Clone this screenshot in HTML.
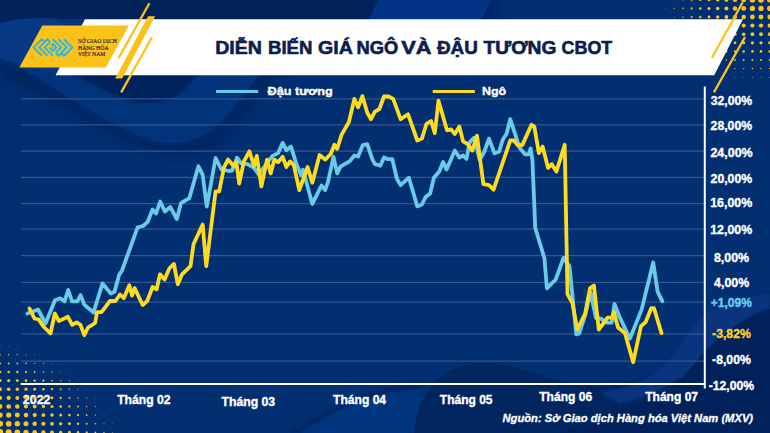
<!DOCTYPE html>
<html><head><meta charset="utf-8"><style>
html,body{margin:0;padding:0;background:#022f6f;}
body{width:770px;height:433px;overflow:hidden;}
svg{display:block;font-family:"Liberation Sans",sans-serif;}
</style></head><body>
<svg width="770" height="433" viewBox="0 0 770 433">
<defs>
<linearGradient id="gDark" x1="0" y1="0" x2="0" y2="1"><stop offset="0" stop-color="#01285f"/><stop offset="1" stop-color="#01245c"/></linearGradient>
<linearGradient id="gLight" gradientUnits="userSpaceOnUse" x1="745" y1="305" x2="700" y2="380"><stop offset="0" stop-color="#0a3e8c"/><stop offset="0.5" stop-color="#063480" stop-opacity="0.6"/><stop offset="1" stop-color="#01245c" stop-opacity="0"/></linearGradient>
<linearGradient id="gTongue" gradientUnits="userSpaceOnUse" x1="484" y1="0" x2="518" y2="0"><stop offset="0" stop-color="#001f66" stop-opacity="0.9"/><stop offset="1" stop-color="#012f71" stop-opacity="0"/></linearGradient>
<filter id="blur1" x="-20%" y="-20%" width="140%" height="140%"><feGaussianBlur stdDeviation="1"/></filter>
<filter id="blur2" x="-20%" y="-20%" width="140%" height="140%"><feGaussianBlur stdDeviation="1.5"/></filter>
<filter id="blur4" x="-20%" y="-20%" width="140%" height="140%"><feGaussianBlur stdDeviation="4"/></filter>
</defs>
<rect width="770" height="433" fill="#012f71"/>
<g id="bgwaves">
<clipPath id="clipAll"><rect width="770" height="433"/></clipPath>
<g clip-path="url(#clipAll)">
<path d="M0,58 C30,70 70,100 112,123 C140,138 160,145 178,143 C200,140 215,130 228,114 C240,100 250,85 265,68 C300,40 340,20 382,0 L400,0 C350,30 300,60 275,80 C255,100 245,120 232,132 C215,150 195,157 172,155 C150,153 125,142 100,128 C60,108 30,88 0,78 Z" fill="#00215a" filter="url(#blur4)" opacity="0.7"/>
<path d="M0,58 C30,70 70,100 112,123 C140,138 160,145 178,143 C200,140 215,130 228,114 C240,100 250,85 265,68 C300,40 340,20 382,0 L0,0 Z" fill="#02347b"/>
<path d="M0,0 L378,0 L369,20 L60,19 C35,17 15,19 0,23 Z" fill="#02225a"/>
<path d="M0,23 C15,19 35,17 60,19 L60,75 C40,70 20,64 0,58 Z" fill="#073883"/>
<path d="M378,0 L491,0 C488,8 485,14 480,20 L369,20 Z" fill="#023384"/>
<path d="M491,0 L525,0 L512,20 L480,20 C485,14 488,8 491,0 Z" fill="url(#gTongue)"/>
<path d="M70,72 C95,85 120,103 147,103 C172,103 187,93 198,72 Z" fill="#01245c" filter="url(#blur2)"/>
<path d="M300,433 C330,415 355,400 385,394 C400,391 412,390 422,390 L422,385 C410,384 398,385 383,389 C350,396 322,414 288,433 Z" fill="#01225c" opacity="0.7" filter="url(#blur2)"/>
<path d="M300,433 C330,415 355,400 385,394 C400,391 412,390 422,390 L416,433 Z" fill="#05357f" filter="url(#blur1)"/>
<path d="M414,433 C418,392 440,368 476,363 C510,360 545,380 580,385 C610,389 640,382 660,368 C678,352 690,325 705,313 C725,300 750,296 770,293 L770,433 Z" fill="#01265f"/>
<path d="M600,392 C630,388 645,380 660,368 C678,352 690,325 705,313 C725,300 750,296 770,293 L770,309 C755,312 735,325 712,345 C705,350 700,358 690,370 C675,385 650,396 620,404 Z" fill="#073886" opacity="0.8" filter="url(#blur1)"/>
<path d="M560,433 C600,418 650,398 675,385 C685,378 695,362 712,345 C735,325 755,312 770,309 L770,433 Z" fill="#01215a"/>
</g>
</g>
<g fill="#fcc419"><circle cx="769.7" cy="-0.2" r="2.72"/><circle cx="769.7" cy="8.4" r="2.61"/><circle cx="769.7" cy="17.0" r="2.38"/><circle cx="769.7" cy="25.6" r="2.11"/><circle cx="769.7" cy="34.2" r="1.84"/><circle cx="769.7" cy="42.8" r="1.57"/><circle cx="769.7" cy="51.4" r="1.29"/><circle cx="769.7" cy="60.0" r="1.01"/><circle cx="769.7" cy="68.6" r="0.73"/><circle cx="769.7" cy="77.2" r="0.45"/><circle cx="761.0" cy="-0.2" r="2.97"/><circle cx="761.0" cy="8.4" r="2.72"/><circle cx="761.0" cy="17.0" r="2.44"/><circle cx="761.0" cy="25.6" r="2.16"/><circle cx="761.0" cy="34.2" r="1.88"/><circle cx="761.0" cy="42.8" r="1.59"/><circle cx="761.0" cy="51.4" r="1.31"/><circle cx="761.0" cy="60.0" r="1.03"/><circle cx="761.0" cy="68.6" r="0.75"/><circle cx="761.0" cy="77.2" r="0.46"/><circle cx="752.4" cy="-0.2" r="2.78"/><circle cx="752.4" cy="8.4" r="2.65"/><circle cx="752.4" cy="17.0" r="2.40"/><circle cx="752.4" cy="25.6" r="2.13"/><circle cx="752.4" cy="34.2" r="1.86"/><circle cx="752.4" cy="42.8" r="1.58"/><circle cx="752.4" cy="51.4" r="1.30"/><circle cx="752.4" cy="60.0" r="1.02"/><circle cx="752.4" cy="68.6" r="0.74"/><circle cx="752.4" cy="77.2" r="0.45"/><circle cx="743.7" cy="-0.2" r="2.53"/><circle cx="743.7" cy="8.4" r="2.46"/><circle cx="743.7" cy="17.0" r="2.27"/><circle cx="743.7" cy="25.6" r="2.04"/><circle cx="743.7" cy="34.2" r="1.78"/><circle cx="743.7" cy="42.8" r="1.52"/><circle cx="743.7" cy="51.4" r="1.25"/><circle cx="743.7" cy="60.0" r="0.97"/><circle cx="743.7" cy="68.6" r="0.70"/><circle cx="743.7" cy="77.2" r="0.42"/><circle cx="735.0" cy="-0.2" r="2.29"/><circle cx="735.0" cy="8.4" r="2.23"/><circle cx="735.0" cy="17.0" r="2.09"/><circle cx="735.0" cy="25.6" r="1.90"/><circle cx="735.0" cy="34.2" r="1.67"/><circle cx="735.0" cy="42.8" r="1.42"/><circle cx="735.0" cy="51.4" r="1.17"/><circle cx="735.0" cy="60.0" r="0.90"/><circle cx="735.0" cy="68.6" r="0.64"/><circle cx="735.0" cy="77.2" r="0.36"/><circle cx="726.4" cy="-0.2" r="2.04"/><circle cx="726.4" cy="8.4" r="2.00"/><circle cx="726.4" cy="17.0" r="1.89"/><circle cx="726.4" cy="25.6" r="1.72"/><circle cx="726.4" cy="34.2" r="1.52"/><circle cx="726.4" cy="42.8" r="1.30"/><circle cx="726.4" cy="51.4" r="1.06"/><circle cx="726.4" cy="60.0" r="0.81"/><circle cx="726.4" cy="68.6" r="0.55"/><circle cx="726.4" cy="77.2" r="0.29"/><circle cx="717.7" cy="-0.2" r="1.79"/><circle cx="717.7" cy="8.4" r="1.76"/><circle cx="717.7" cy="17.0" r="1.67"/><circle cx="717.7" cy="25.6" r="1.53"/><circle cx="717.7" cy="34.2" r="1.35"/><circle cx="717.7" cy="42.8" r="1.15"/><circle cx="717.7" cy="51.4" r="0.92"/><circle cx="717.7" cy="60.0" r="0.69"/><circle cx="717.7" cy="68.6" r="0.44"/><circle cx="709.0" cy="-0.2" r="1.54"/><circle cx="709.0" cy="8.4" r="1.52"/><circle cx="709.0" cy="17.0" r="1.44"/><circle cx="709.0" cy="25.6" r="1.32"/><circle cx="709.0" cy="34.2" r="1.16"/><circle cx="709.0" cy="42.8" r="0.98"/><circle cx="709.0" cy="51.4" r="0.77"/><circle cx="709.0" cy="60.0" r="0.55"/><circle cx="709.0" cy="68.6" r="0.32"/><circle cx="700.3" cy="-0.2" r="1.30"/><circle cx="700.3" cy="8.4" r="1.27"/><circle cx="700.3" cy="17.0" r="1.21"/><circle cx="700.3" cy="25.6" r="1.10"/><circle cx="700.3" cy="34.2" r="0.96"/><circle cx="700.3" cy="42.8" r="0.79"/><circle cx="700.3" cy="51.4" r="0.60"/><circle cx="700.3" cy="60.0" r="0.39"/><circle cx="691.7" cy="-0.2" r="1.05"/><circle cx="691.7" cy="8.4" r="1.03"/><circle cx="691.7" cy="17.0" r="0.97"/><circle cx="691.7" cy="25.6" r="0.87"/><circle cx="691.7" cy="34.2" r="0.75"/><circle cx="691.7" cy="42.8" r="0.59"/><circle cx="691.7" cy="51.4" r="0.42"/><circle cx="683.0" cy="-0.2" r="0.80"/><circle cx="683.0" cy="8.4" r="0.78"/><circle cx="683.0" cy="17.0" r="0.73"/><circle cx="683.0" cy="25.6" r="0.64"/><circle cx="683.0" cy="34.2" r="0.53"/><circle cx="683.0" cy="42.8" r="0.39"/><circle cx="674.3" cy="-0.2" r="0.55"/><circle cx="674.3" cy="8.4" r="0.54"/><circle cx="674.3" cy="17.0" r="0.49"/><circle cx="674.3" cy="25.6" r="0.41"/><circle cx="674.3" cy="34.2" r="0.31"/><circle cx="665.7" cy="-0.2" r="0.30"/><circle cx="665.7" cy="8.4" r="0.29"/></g>
<!-- banner -->
<polygon points="85,19.2 743,19.2 714.2,75.2 55.6,75.2" fill="#ffffff"/>
<!-- logo parallelogram -->
<polygon points="42.3,25.4 129,25.4 105.8,67.6 19.3,67.6" fill="#fdc21a"/>
<!-- stripes -->
<g fill="#fdc21a">
<polygon points="148,16.2 155.1,16.2 122.2,78.6 115.2,78.6"/>
</g>
<g stroke="#fdc21a" stroke-width="2.3" stroke-linecap="butt" fill="none">
<line x1="149.4" y1="3.2" x2="118.5" y2="58.2"/>
<line x1="151.8" y1="37.5" x2="121.2" y2="92.4"/>
<line x1="742.7" y1="2.3" x2="712" y2="57.7"/>
<line x1="745" y1="37" x2="713.9" y2="92.4"/>
</g>
<!-- logo icon -->
<g transform="translate(31,36) scale(0.05848)" stroke="#1fb8f0" stroke-width="32" fill="none" stroke-linejoin="miter" stroke-linecap="butt">
<path d="M185,335 L45,195 L185,55 L230,100 M280,335 L140,195 L280,55 L325,100 M375,55 L515,195 L420,290 M565,55 L705,195 L565,335 L520,290 M470,55 L610,195 L470,335 L425,290 M375,335 L235,195 L330,100 M345,165 L375,135 L435,195 L375,255 L315,195"/>
<circle cx="375" cy="195" r="15" fill="#1fb8f0" stroke="none"/>
</g>
<rect x="71.6" y="39.2" width="1.8" height="0.8" fill="#8ab39a" opacity="0.8"/>
<g fill="#3a2a35" font-family="Liberation Serif" font-size="5.1" stroke="#3a2a35" stroke-width="0.18">
<text x="78" y="43.2" textLength="39" lengthAdjust="spacingAndGlyphs">SỞ GIAO DỊCH</text>
<text x="78" y="49.7" textLength="30.6" lengthAdjust="spacingAndGlyphs">HÀNG HÓA</text>
<text x="78" y="56.2" textLength="27.2" lengthAdjust="spacingAndGlyphs">VIỆT NAM</text>
</g>
<!-- title -->
<g font-size="18" font-weight="bold" fill="#0c1f4b" stroke="#0c1f4b" stroke-width="0.6"><text x="215.20" y="53.5" textLength="46.71" lengthAdjust="spacingAndGlyphs">DIỄN</text><text x="267.96" y="53.5" textLength="44.49" lengthAdjust="spacingAndGlyphs">BIẾN</text><text x="318.14" y="53.5" textLength="34.81" lengthAdjust="spacingAndGlyphs">GIÁ</text><text x="356.58" y="53.5" textLength="41.74" lengthAdjust="spacingAndGlyphs">NGÔ</text><text x="401.28" y="53.5" textLength="30.33" lengthAdjust="spacingAndGlyphs">VÀ</text><text x="437.00" y="53.5" textLength="40.85" lengthAdjust="spacingAndGlyphs">ĐẬU</text><text x="483.49" y="53.5" textLength="72.97" lengthAdjust="spacingAndGlyphs">TƯƠNG</text><text x="561.60" y="53.5" textLength="50.69" lengthAdjust="spacingAndGlyphs">CBOT</text></g>
<!-- legend -->
<line x1="216" y1="91.6" x2="258.2" y2="91.6" stroke="#6acbe9" stroke-width="3"/>
<line x1="432.7" y1="91.4" x2="474.9" y2="91.4" stroke="#fedb1e" stroke-width="3"/>
<g font-size="11.8" font-weight="bold" fill="#fff" stroke="#fff" stroke-width="0.35"><text x="267.60" y="94.6" textLength="65.21" lengthAdjust="spacingAndGlyphs">Đậu tương</text><text x="481.96" y="94.6" textLength="24.10" lengthAdjust="spacingAndGlyphs">Ngô</text></g>
<!-- grid -->
<g stroke="#35568f" stroke-width="1.3"><line x1="21" y1="98.9" x2="704" y2="98.9"/><line x1="21" y1="124.9" x2="704" y2="124.9"/><line x1="21" y1="151.1" x2="704" y2="151.1"/><line x1="21" y1="177.3" x2="704" y2="177.3"/><line x1="21" y1="203.6" x2="704" y2="203.6"/><line x1="21" y1="229.1" x2="704" y2="229.1"/><line x1="21" y1="255.7" x2="704" y2="255.7"/><line x1="21" y1="282.3" x2="704" y2="282.3"/><line x1="21" y1="302.2" x2="704" y2="302.2"/><line x1="21" y1="333.9" x2="704" y2="333.9"/><line x1="21" y1="361.1" x2="704" y2="361.1"/></g>
<!-- axes -->
<line x1="704.8" y1="86.4" x2="704.8" y2="388.4" stroke="#fff" stroke-width="2"/>
<line x1="20.8" y1="384" x2="705" y2="384" stroke="#fff" stroke-width="2.1"/>
<!-- series -->
<polyline points="27.5,313.5 38.0,309.5 45.5,323.5 55.0,300.2 60.2,298.3 64.6,301.4 68.2,290.0 72.0,301.4 77.3,301.4 80.6,295.1 84.3,304.6 93.5,312.5 102.5,283.4 110.8,293.6 114.5,291.8 119.1,275.1 122.0,270.5 137.6,227.4 143.0,226.0 147.7,221.8 152.5,209.5 156.0,213.6 160.2,201.5 164.9,211.5 170.4,207.1 176.8,219.0 181.0,203.2 189.3,198.2 198.4,166.3 202.6,174.6 206.8,206.5 215.6,158.0 221.2,169.1 228.6,171.0 232.2,170.5 237.0,157.7 241.1,163.3 247.6,164.2 254.0,167.9 258.7,174.4 272.5,155.9 278.1,153.1 282.7,142.9 286.4,150.3 291.0,146.6 296.5,164.2 301.2,175.3 303.0,169.7 312.3,203.9 321.5,185.5 325.2,190.0 328.0,181.8 333.5,156.8 337.2,173.4 340.5,166.6 349.8,161.1 354.4,155.5 358.1,156.5 362.7,145.1 367.3,144.1 372.0,158.3 374.7,163.9 380.3,165.7 384.0,157.4 387.7,159.2 392.3,159.2 396.9,178.7 400.6,185.1 408.9,177.7 417.3,206.4 421.9,204.5 425.6,197.1 430.2,193.4 433.9,177.7 439.4,171.3 443.1,162.0 446.5,169.4 451.1,159.2 454.8,150.5 459.4,157.5 463.1,155.5 466.5,159.0 469.6,142.3 474.2,137.7 479.7,159.9 484.4,151.5 489.0,138.6 494.5,153.4 499.2,151.5 502.8,139.5 506.5,134.0 510.2,119.2 513.9,130.3 519.5,147.8 525.0,154.3 528.7,154.3 530.6,148.5 532.4,159.6 535.2,227.7 544.4,258.2 546.9,288.3 555.7,279.5 563.5,257.9 569.4,265.8 576.3,334.4 579.2,333.4 585.0,316.0 590.5,292.0 596.0,318.0 600.8,318.7 606.7,322.6 611.6,322.6 614.5,304.0 619.4,316.5 629.9,338.6 641.6,309.6 653.2,262.5 657.6,291.6 662.3,301.2" fill="none" stroke="#6acbe9" stroke-width="3.8" stroke-linejoin="round" stroke-linecap="round"/>
<polyline points="29.5,308.5 34.5,318.5 38.7,319.5 43.4,326.5 50.5,333.5 54.8,313.5 58.9,321.1 67.8,316.7 72.2,324.9 76.7,322.4 80.5,324.9 84.3,335.1 88.1,327.5 95.1,323.0 97.0,312.2 101.5,312.2 110.0,301.0 115.5,301.0 120.0,294.5 123.8,298.2 129.3,285.3 132.0,295.5 134.6,288.1 142.7,305.0 147.3,300.8 152.6,287.0 156.6,289.3 160.0,274.3 164.6,279.6 169.3,268.5 173.9,263.9 177.8,284.2 182.0,274.3 190.5,266.2 193.5,244.2 202.7,224.6 206.2,266.2 215.6,191.3 219.2,191.3 223.9,167.7 228.1,159.4 233.6,166.3 236.4,162.2 239.2,183.6 243.9,161.4 249.4,151.3 254.0,166.0 256.8,155.9 261.4,186.4 267.0,159.6 270.7,173.4 274.4,159.6 278.1,162.3 282.7,156.8 286.4,167.0 290.1,161.4 293.8,165.1 299.3,190.1 307.6,167.0 312.3,182.7 319.6,155.0 325.2,159.6 330.7,154.0 334.4,144.8 337.2,148.8 341.5,134.9 348.9,122.0 354.4,98.9 358.1,107.2 362.4,96.1 367.3,112.7 371.0,119.2 374.7,111.8 379.4,109.0 384.0,96.5 388.6,96.5 393.2,98.9 400.6,119.2 408.0,114.2 417.3,140.5 421.9,138.6 426.5,123.8 431.1,121.0 434.8,133.1 438.5,100.7 447.0,130.3 451.1,129.4 454.8,134.0 459.4,126.6 463.1,141.4 467.7,144.1 472.3,150.6 477.0,135.8 483.4,184.2 489.0,185.1 493.6,189.7 510.2,140.5 514.0,140.5 517.6,145.1 522.3,145.1 531.5,124.7 534.3,126.6 538.9,153.1 542.6,146.6 548.1,167.9 551.8,164.2 556.4,171.6 564.7,144.8 567.5,294.2 572.4,303.0 577.3,329.5 585.1,313.8 590.0,288.3 593.9,285.4 598.8,329.5 607.6,317.7 612.5,317.7 613.9,312.3 618.0,327.6 624.9,333.1 633.2,362.2 641.0,326.2 645.7,322.0 651.2,308.2 654.0,308.2 661.5,333.1" fill="none" stroke="#fedb1e" stroke-width="3.8" stroke-linejoin="round" stroke-linecap="round"/>
<!-- y labels -->
<g font-size="12.4" font-weight="bold" stroke-width="0.35"><text x="710.70" y="104.6" fill="#fff" stroke="#fff" textLength="41.45" lengthAdjust="spacingAndGlyphs">32,00%</text><text x="710.60" y="130.3" fill="#fff" stroke="#fff" textLength="41.55" lengthAdjust="spacingAndGlyphs">28,00%</text><text x="710.40" y="156.9" fill="#fff" stroke="#fff" textLength="42.26" lengthAdjust="spacingAndGlyphs">24,00%</text><text x="710.60" y="183.4" fill="#fff" stroke="#fff" textLength="41.55" lengthAdjust="spacingAndGlyphs">20,00%</text><text x="710.20" y="207.4" fill="#fff" stroke="#fff" textLength="41.95" lengthAdjust="spacingAndGlyphs">16,00%</text><text x="710.20" y="234.2" fill="#fff" stroke="#fff" textLength="41.95" lengthAdjust="spacingAndGlyphs">12,00%</text><text x="713.90" y="261.5" fill="#fff" stroke="#fff" textLength="35.26" lengthAdjust="spacingAndGlyphs">8,00%</text><text x="714.10" y="287.3" fill="#fff" stroke="#fff" textLength="35.06" lengthAdjust="spacingAndGlyphs">4,00%</text><text x="710.82" y="307" fill="#6fcdf0" stroke="#6fcdf0" textLength="40.98" lengthAdjust="spacingAndGlyphs">+1,09%</text><text x="712.11" y="338" fill="#fdd22a" stroke="#fdd22a" textLength="38.68" lengthAdjust="spacingAndGlyphs">-3,82%</text><text x="712.11" y="364.2" fill="#fff" stroke="#fff" textLength="38.68" lengthAdjust="spacingAndGlyphs">-8,00%</text><text x="708.71" y="389.5" fill="#fff" stroke="#fff" textLength="45.48" lengthAdjust="spacingAndGlyphs">-12,00%</text></g>
<g font-size="12.2" font-weight="bold" fill="#fff" stroke="#fff" stroke-width="0.35"><text x="22.79" y="404.4" textLength="27.76" lengthAdjust="spacingAndGlyphs">2022</text><text x="117.20" y="403.5" textLength="53.25" lengthAdjust="spacingAndGlyphs">Tháng 02</text><text x="221.50" y="405.5" textLength="53.65" lengthAdjust="spacingAndGlyphs">Tháng 03</text><text x="333.10" y="403.8" textLength="52.95" lengthAdjust="spacingAndGlyphs">Tháng 04</text><text x="439.80" y="403.8" textLength="52.74" lengthAdjust="spacingAndGlyphs">Tháng 05</text><text x="539.20" y="401.4" textLength="52.94" lengthAdjust="spacingAndGlyphs">Tháng 06</text><text x="645.20" y="401" textLength="52.84" lengthAdjust="spacingAndGlyphs">Tháng 07</text></g>
<g fill="#fcc419"><circle cx="0.0" cy="346.1" r="0.48"/><circle cx="0.0" cy="354.7" r="0.76"/><circle cx="0.0" cy="363.4" r="1.04"/><circle cx="0.0" cy="372.0" r="1.32"/><circle cx="0.0" cy="380.6" r="1.60"/><circle cx="0.0" cy="389.2" r="1.88"/><circle cx="0.0" cy="397.9" r="2.16"/><circle cx="0.0" cy="406.5" r="2.44"/><circle cx="0.0" cy="415.1" r="2.72"/><circle cx="0.0" cy="423.8" r="3.00"/><circle cx="0.0" cy="432.4" r="3.28"/><circle cx="0.0" cy="441.0" r="3.04"/><circle cx="8.7" cy="346.1" r="0.43"/><circle cx="8.7" cy="354.7" r="0.71"/><circle cx="8.7" cy="363.4" r="0.99"/><circle cx="8.7" cy="372.0" r="1.27"/><circle cx="8.7" cy="380.6" r="1.54"/><circle cx="8.7" cy="389.2" r="1.82"/><circle cx="8.7" cy="397.9" r="2.09"/><circle cx="8.7" cy="406.5" r="2.37"/><circle cx="8.7" cy="415.1" r="2.63"/><circle cx="8.7" cy="423.8" r="2.88"/><circle cx="8.7" cy="432.4" r="3.08"/><circle cx="8.7" cy="441.0" r="2.92"/><circle cx="17.3" cy="346.1" r="0.36"/><circle cx="17.3" cy="354.7" r="0.63"/><circle cx="17.3" cy="363.4" r="0.91"/><circle cx="17.3" cy="372.0" r="1.18"/><circle cx="17.3" cy="380.6" r="1.45"/><circle cx="17.3" cy="389.2" r="1.72"/><circle cx="17.3" cy="397.9" r="1.98"/><circle cx="17.3" cy="406.5" r="2.24"/><circle cx="17.3" cy="415.1" r="2.48"/><circle cx="17.3" cy="423.8" r="2.71"/><circle cx="17.3" cy="432.4" r="2.86"/><circle cx="17.3" cy="441.0" r="2.73"/><circle cx="26.0" cy="346.1" r="0.27"/><circle cx="26.0" cy="354.7" r="0.54"/><circle cx="26.0" cy="363.4" r="0.80"/><circle cx="26.0" cy="372.0" r="1.07"/><circle cx="26.0" cy="380.6" r="1.33"/><circle cx="26.0" cy="389.2" r="1.59"/><circle cx="26.0" cy="397.9" r="1.84"/><circle cx="26.0" cy="406.5" r="2.09"/><circle cx="26.0" cy="415.1" r="2.31"/><circle cx="26.0" cy="423.8" r="2.51"/><circle cx="26.0" cy="432.4" r="2.63"/><circle cx="26.0" cy="441.0" r="2.53"/><circle cx="34.7" cy="354.7" r="0.42"/><circle cx="34.7" cy="363.4" r="0.68"/><circle cx="34.7" cy="372.0" r="0.94"/><circle cx="34.7" cy="380.6" r="1.20"/><circle cx="34.7" cy="389.2" r="1.44"/><circle cx="34.7" cy="397.9" r="1.69"/><circle cx="34.7" cy="406.5" r="1.91"/><circle cx="34.7" cy="415.1" r="2.12"/><circle cx="34.7" cy="423.8" r="2.30"/><circle cx="34.7" cy="432.4" r="2.41"/><circle cx="34.7" cy="441.0" r="2.32"/><circle cx="43.4" cy="354.7" r="0.29"/><circle cx="43.4" cy="363.4" r="0.55"/><circle cx="43.4" cy="372.0" r="0.80"/><circle cx="43.4" cy="380.6" r="1.05"/><circle cx="43.4" cy="389.2" r="1.29"/><circle cx="43.4" cy="397.9" r="1.52"/><circle cx="43.4" cy="406.5" r="1.73"/><circle cx="43.4" cy="415.1" r="1.93"/><circle cx="43.4" cy="423.8" r="2.09"/><circle cx="43.4" cy="432.4" r="2.19"/><circle cx="43.4" cy="441.0" r="2.11"/><circle cx="52.0" cy="363.4" r="0.40"/><circle cx="52.0" cy="372.0" r="0.65"/><circle cx="52.0" cy="380.6" r="0.89"/><circle cx="52.0" cy="389.2" r="1.12"/><circle cx="52.0" cy="397.9" r="1.34"/><circle cx="52.0" cy="406.5" r="1.54"/><circle cx="52.0" cy="415.1" r="1.73"/><circle cx="52.0" cy="423.8" r="1.88"/><circle cx="52.0" cy="432.4" r="1.97"/><circle cx="52.0" cy="441.0" r="1.90"/><circle cx="60.7" cy="363.4" r="0.25"/><circle cx="60.7" cy="372.0" r="0.49"/><circle cx="60.7" cy="380.6" r="0.72"/><circle cx="60.7" cy="389.2" r="0.94"/><circle cx="60.7" cy="397.9" r="1.15"/><circle cx="60.7" cy="406.5" r="1.35"/><circle cx="60.7" cy="415.1" r="1.52"/><circle cx="60.7" cy="423.8" r="1.67"/><circle cx="60.7" cy="432.4" r="1.75"/><circle cx="60.7" cy="441.0" r="1.68"/><circle cx="69.4" cy="372.0" r="0.32"/><circle cx="69.4" cy="380.6" r="0.54"/><circle cx="69.4" cy="389.2" r="0.76"/><circle cx="69.4" cy="397.9" r="0.96"/><circle cx="69.4" cy="406.5" r="1.15"/><circle cx="69.4" cy="415.1" r="1.32"/><circle cx="69.4" cy="423.8" r="1.45"/><circle cx="69.4" cy="432.4" r="1.53"/><circle cx="69.4" cy="441.0" r="1.47"/><circle cx="78.0" cy="380.6" r="0.37"/><circle cx="78.0" cy="389.2" r="0.57"/><circle cx="78.0" cy="397.9" r="0.77"/><circle cx="78.0" cy="406.5" r="0.95"/><circle cx="78.0" cy="415.1" r="1.11"/><circle cx="78.0" cy="423.8" r="1.23"/><circle cx="78.0" cy="432.4" r="1.31"/><circle cx="78.0" cy="441.0" r="1.25"/><circle cx="86.7" cy="389.2" r="0.38"/><circle cx="86.7" cy="397.9" r="0.57"/><circle cx="86.7" cy="406.5" r="0.74"/><circle cx="86.7" cy="415.1" r="0.90"/><circle cx="86.7" cy="423.8" r="1.02"/><circle cx="86.7" cy="432.4" r="1.09"/><circle cx="86.7" cy="441.0" r="1.03"/><circle cx="95.4" cy="397.9" r="0.37"/><circle cx="95.4" cy="406.5" r="0.54"/><circle cx="95.4" cy="415.1" r="0.68"/><circle cx="95.4" cy="423.8" r="0.80"/><circle cx="95.4" cy="432.4" r="0.87"/><circle cx="95.4" cy="441.0" r="0.81"/><circle cx="104.0" cy="406.5" r="0.33"/><circle cx="104.0" cy="415.1" r="0.47"/><circle cx="104.0" cy="423.8" r="0.58"/><circle cx="104.0" cy="432.4" r="0.65"/><circle cx="104.0" cy="441.0" r="0.59"/><circle cx="112.7" cy="415.1" r="0.25"/><circle cx="112.7" cy="423.8" r="0.36"/><circle cx="112.7" cy="432.4" r="0.42"/><circle cx="112.7" cy="441.0" r="0.37"/></g>
<text x="502.51" y="421.6" textLength="250.58" lengthAdjust="spacingAndGlyphs" font-size="11.6" font-weight="bold" font-style="italic" fill="#fff" stroke="#fff" stroke-width="0.3">Nguồn: Sở Giao dịch Hàng hóa Việt Nam (MXV)</text>
</svg>
</body></html>
